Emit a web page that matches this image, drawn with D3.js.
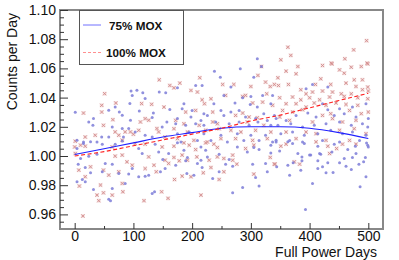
<!DOCTYPE html>
<html><head><meta charset="utf-8">
<script src="https://cdn.jsdelivr.net/npm/d3@7"></script>
<style>
html,body{margin:0;padding:0;background:#fff;}
svg{display:block;font-family:"Liberation Sans",Arial,Helvetica,sans-serif;}
</style></head>
<body>
<svg id="c" width="399" height="260"></svg>
<script>
// ---- data ----
const mox75Points = [
[1,1.030],[96,1.0445],[106,1.045],[98,1.0415],[116,1.0434],[120,1.0393],[144,1.0438],[155,1.0434],[162,1.0318],[134,1.0294],[132,1.0263],[110,1.0308],[94,1.0359],[95,1.0245],[69,1.0335],[58,1.0313],[76,1.0301],[81,1.0279],[32,1.0256],[24,1.0233],[31,1.021],[64,1.0199],[81,1.0188],[83,1.013],[58,1.013],[46,1.013],[38,1.0096],[15,1.0096],[4,1.0108],[132,1.013],[149,1.0199],[157,1.0233],[120,1.0142],[103,1.0165],[92,1.0188],
[282,1.0597],[238,1.0581],[248,1.054],[305,1.054],[206,1.0483],[217,1.0483],[175,1.0467],[266,1.0472],[254,1.0415],[286,1.0399],[300,1.0408],[320,1.0415],[337,1.0415],[273,1.0363],[299,1.0353],[334,1.0358],[237,1.0358],[186,1.0358],[183,1.0324],[200,1.0312],[220,1.029],[249,1.0312],[266,1.0301],[280,1.0312],[311,1.0335],[322,1.029],[175,1.0256],[198,1.0267],[215,1.0244],[226,1.0278],[254,1.0278],[291,1.0267],[308,1.0256],[328,1.0244],[340,1.0278],[172,1.0221],[189,1.021],[206,1.0221],[220,1.021],[240,1.0233],[263,1.0221],[280,1.0233],[297,1.021],[312,1.0233],[334,1.021],[175,1.0153],[195,1.0164],[220,1.0153],[249,1.0142],[277,1.0153],[300,1.0142],[325,1.0142],[181,1.0096],[209,1.0107],[232,1.0107],[260,1.0096],[288,1.0107],[314,1.0107],[337,1.0096],
[343,1.0256],[360,1.0244],[377,1.0278],[405,1.049],[431,1.0472],[394,1.046],[422,1.0358],[431,1.0317],[451,1.0324],[473,1.0335],[496,1.0358],[397,1.0294],[411,1.0267],[442,1.0278],[459,1.029],[479,1.0267],[500,1.0256],[346,1.021],[368,1.0221],[388,1.0199],[408,1.021],[428,1.0221],[451,1.0233],[471,1.021],[490,1.0221],[499,1.0199],[351,1.0153],[371,1.0164],[391,1.0142],[414,1.0153],[436,1.0176],[456,1.0153],[473,1.0164],[496,1.0142],[343,1.0096],[366,1.0107],[388,1.0096],[422,1.0107],[451,1.0096],[485,1.0107],[497,1.0089],
[311,1.0666],[318,1.0613],
[15,1.0085],[4,1.0051],[27,1.0097],[47,1.0081],[81,1.0103],[10,0.9983],[24,0.9999],[38,1.0012],[6,0.9944],[18,0.9921],[27,0.9885],[13,0.9839],[4,0.9823],[18,0.9823],[47,0.9892],[52,0.9949],[64,0.9944],[75,0.988],[92,0.9876],[98,0.9914],[109,0.9858],[120,0.9862],[126,0.9869],[146,0.9892],[154,0.9914],[160,1.0017],[143,1.0028],[137,1.0081],[32,0.9771],[64,0.9778],[86,0.9812],[132,0.9744],[136,0.9755],[61,0.9694],[58,0.9703],[69,1.0081],[109,1.0051],[115,1.0017],[150,0.9976],
[175,1.009],[186,1.004],[192,0.999],[189,0.9967],[172,0.9937],[191,0.988],[203,0.9869],[209,0.9949],[215,0.9971],[217,0.9921],[223,1.004],[215,1.0062],[246,1.0012],[257,0.9944],[269,0.993],[263,0.9976],[277,1.0062],[294,1.0028],[305,1.0058],[314,1.0044],[334,1.0074],[334,1.0021],[325,0.9949],[303,0.9944],[328,0.9892],[308,0.9853],[314,0.9794],[286,0.9785],[269,0.9748],[235,0.9846],[246,0.9892],[226,0.9994],
[343,1.0108],[363,1.0097],[371,1.0085],[391,1.0085],[414,1.0067],[442,1.0081],[465,1.0044],[478,1.0067],[499,1.0074],[349,1.0035],[380,1.0017],[387,0.9994],[400,1.0006],[419,1.0012],[438,1.0028],[459,0.9983],[473,0.999],[479,1.0017],[495,0.999],[500,1.0062],[363,0.9937],[372,0.9953],[387,0.9967],[414,0.9967],[431,0.9953],[451,0.9953],[462,0.993],[484,0.9944],[492,0.996],[344,0.9926],[385,0.9903],[414,0.9914],[422,0.9926],[428,0.9885],[440,0.9887],[471,0.9908],[496,0.9858],[366,0.9869],[405,0.9812],[486,0.9789],[393,0.9634],[417,1.0017],[402,1.0006]
];
const mox100Points = [
[51,1.0427],[144,1.0522],[162,1.0483],[70,1.0363],[46,1.0347],[15,1.0294],[46,1.0301],[65,1.0249],[49,1.021],[114,1.0359],[131,1.0354],[152,1.0335],[120,1.0256],[112,1.0233],[126,1.0245],[86,1.0165],[95,1.0165],[100,1.0149],[109,1.0176],[69,1.0165],[75,1.0142],[35,1.0142],[1,1.0101],[18,1.013],[140,1.0188],[154,1.013],[143,1.0165],[81,1.0108],
[213,1.0536],[179,1.0499],[252,1.049],[271,1.049],[312,1.0552],[318,1.0613],[300,1.0476],[325,1.0506],[333,1.0476],[169,1.0467],[198,1.0449],[209,1.0438],[217,1.0385],[232,1.0392],[221,1.0358],[257,1.0415],[286,1.0408],[291,1.0415],[327,1.0426],[337,1.0347],[320,1.0369],[303,1.0363],[286,1.0294],[189,1.0301],[206,1.0312],[235,1.0301],[274,1.0278],[297,1.0267],[311,1.0262],[172,1.0244],[186,1.0221],[212,1.021],[235,1.0233],[243,1.0221],[294,1.0233],[322,1.021],[169,1.0187],[192,1.0164],[223,1.0176],[246,1.0187],[266,1.0176],[283,1.0164],[308,1.0176],[334,1.0164],[175,1.0119],[203,1.0107],[226,1.0096],[249,1.0119],[274,1.0119],[303,1.0107],[328,1.0119],
[380,1.0613],[422,1.062],[438,1.0631],[499,1.0631],[471,1.0608],[488,1.0613],[360,1.0581],[346,1.0536],[377,1.0563],[451,1.059],[459,1.0567],[476,1.0522],[490,1.0522],[419,1.0529],[340,1.049],[347,1.0483],[364,1.049],[410,1.049],[436,1.049],[462,1.0499],[479,1.0476],[499,1.0472],[385,1.0454],[394,1.0426],[405,1.0438],[422,1.0445],[439,1.0438],[454,1.0426],[471,1.0426],[490,1.0454],[500,1.0445],[349,1.0399],[371,1.0404],[385,1.0385],[400,1.0399],[417,1.0385],[434,1.0404],[459,1.0408],[482,1.0399],[499,1.0392],[360,1.0358],[377,1.0358],[394,1.0335],[408,1.0363],[428,1.0347],[445,1.0363],[462,1.0353],[482,1.0347],[354,1.0312],[371,1.0301],[388,1.0317],[422,1.0278],[436,1.029],[468,1.0312],[488,1.029],[500,1.0301],[349,1.0267],[366,1.0244],[405,1.0233],[439,1.0256],[456,1.0233],[479,1.0244],[360,1.0164],[394,1.0164],[411,1.0153],[451,1.0176],[476,1.0187],[496,1.0153],[377,1.0119],[428,1.0107],[468,1.0107],
[497,1.079],[475,1.0727],[363,1.0745],[368,1.0689],[460,1.0666],[351,1.0659],[437,1.0636],[498,1.0636],
[1,1.0017],[0,1.0062],[10,1.0074],[18,1.0067],[7,0.9903],[27,0.9926],[49,0.9903],[58,0.9869],[69,0.9999],[81,1.0006],[89,0.996],[98,0.9937],[126,0.9994],[135,0.9937],[154,0.9971],[160,0.9949],[75,0.9892],[81,0.9812],[44,0.9801],[18,0.9858],[8,0.9794],[49,0.9748],[38,0.9732],[41,0.9694],[64,0.9732],[82,0.9755],[118,0.9694],[139,0.9892],[148,0.9755],[159,0.971],[14,0.9589],[103,1.0085],[120,1.0081],[149,1.0062],[64,1.0062],[120,0.9914],
[169,1.0067],[186,1.009],[195,1.0074],[206,1.0044],[223,1.009],[237,1.0081],[243,1.0058],[183,1.0006],[169,0.999],[178,0.9967],[192,0.9971],[208,0.9994],[229,0.9971],[243,0.9994],[254,0.9983],[269,1.0006],[269,0.9971],[276,0.9944],[254,0.9892],[232,0.9921],[219,0.9885],[198,0.9858],[183,0.9862],[170,0.9839],[246,0.9839],[215,0.9732],[291,1.0051],[305,1.0074],[333,0.999],[341,0.9944],[305,0.9876],
[351,1.0067],[360,1.0081],[411,1.0097],[431,1.0067],[446,1.0051],[456,1.0081],[340,0.9944],[374,0.996],[383,0.9944],[434,1.0017],[479,1.0081]
];
const fitDays  = [0,50,100,150,200,250,300,350,400,450,500];
const fit75    = [1.001,1.005,1.009,1.013,1.016,1.019,1.020,1.020,1.019,1.016,1.012];
const fit100   = [1.000,1.003,1.007,1.011,1.015,1.019,1.024,1.028,1.033,1.038,1.043];
const xTicks = [0,100,200,300,400,500];
const xMinorTicks = [50,150,250,350,450];
const yTicks = [0.96,0.98,1.00,1.02,1.04,1.06,1.08,1.10];
const seriesNames = ["75% MOX","100% MOX"];

// ---- chart ----
const svg = d3.select("#c");
const L=60,R=383,T=10,B=229;
const x = d3.scaleLinear().domain([-25,525]).range([L,R]);
const y = d3.scaleLinear().domain([0.95,1.10]).range([B,T]);

svg.append("defs").append("clipPath").attr("id","clip")
  .append("rect").attr("x",L).attr("y",T).attr("width",R-L).attr("height",B-T);

const plot = svg.append("g").attr("clip-path","url(#clip)");

// red x markers
const rg = plot.append("g");
mox100Points.forEach(d=>{
  const cx=x(d[0]), cy=y(d[1]);
  rg.append("rect").attr("x",cx-2).attr("y",cy-2).attr("width",4).attr("height",4)
    .attr("fill","rgba(225,170,170,0.35)");
  rg.append("path").attr("d",`M${cx-1.6},${cy-1.6}L${cx+1.6},${cy+1.6}M${cx-1.6},${cy+1.6}L${cx+1.6},${cy-1.6}`)
    .attr("stroke","#d38c8c").attr("stroke-width",0.9).attr("fill","none");
});
// blue dots
plot.append("g").selectAll("circle").data(mox75Points).join("circle")
  .attr("cx",d=>x(d[0])).attr("cy",d=>y(d[1])).attr("r",1.5)
  .attr("fill","#7d7dd8").attr("fill-opacity",0.85);

// fit curves
const line = d3.line().x((d,i)=>x(fitDays[i])).y(d=>y(d)).curve(d3.curveMonotoneX);
plot.append("path").attr("d",line(fit75)).attr("fill","none").attr("stroke","#2020ff").attr("stroke-width",1.1);
plot.append("path").attr("d",line(fit100)).attr("fill","none").attr("stroke","#ff2020").attr("stroke-width",1.1).attr("stroke-dasharray","4,2.5");

// frame
svg.append("rect").attr("x",L).attr("y",T).attr("width",R-L).attr("height",B-T)
  .attr("fill","none").attr("stroke","#888").attr("stroke-width",2);

// axes
const yMinor = d3.range(0.955,1.1001,0.005).filter(v=>!yTicks.some(t=>Math.abs(t-v)<1e-6));
const ax = svg.append("g").attr("transform",`translate(${L},0)`)
  .call(d3.axisLeft(y).tickValues(yTicks).tickFormat(d3.format(".2f")).tickSize(-8).tickPadding(4));
const axm = svg.append("g").attr("transform",`translate(${L},0)`)
  .call(d3.axisLeft(y).tickValues(yMinor).tickFormat("").tickSize(-4));
const bx = svg.append("g").attr("transform",`translate(0,${B})`)
  .call(d3.axisBottom(x).tickValues(xTicks).tickFormat(d3.format("d")).tickSize(-6).tickPadding(2));
const bxm = svg.append("g").attr("transform",`translate(0,${B})`)
  .call(d3.axisBottom(x).tickValues(xMinorTicks).tickFormat("").tickSize(-3));
[ax,axm,bx,bxm].forEach(g=>{
  g.select(".domain").remove();
  g.selectAll(".tick line").attr("stroke","#333").attr("stroke-width",1);
  g.selectAll("text").attr("font-size",14).attr("fill","#111")
    .attr("font-family","'Liberation Sans',Arial,Helvetica,sans-serif");
});

// axis titles
svg.append("text").attr("x",377).attr("y",257).attr("text-anchor","end")
  .attr("font-size",14).attr("fill","#111").text("Full Power Days");
svg.append("text").attr("transform","translate(17,13) rotate(-90)").attr("text-anchor","end")
  .attr("font-size",14).attr("fill","#111").text("Counts per Day");

// legend
const lg = svg.append("g");
lg.append("rect").attr("x",79.5).attr("y",10.5).attr("width",104).attr("height",54)
  .attr("fill","#fff").attr("stroke","#555").attr("stroke-width",1);
lg.append("line").attr("x1",83).attr("x2",101).attr("y1",25).attr("y2",25)
  .attr("stroke","#7070ff").attr("stroke-width",1);
lg.append("line").attr("x1",83).attr("x2",101).attr("y1",52.5).attr("y2",52.5)
  .attr("stroke","#ff8f8f").attr("stroke-width",1).attr("stroke-dasharray","3,2");
lg.append("text").attr("x",109).attr("y",29.5).attr("font-size",11.7).attr("font-weight","bold").attr("fill","#111").text(seriesNames[0]);
lg.append("text").attr("x",106).attr("y",57).attr("font-size",11.7).attr("font-weight","bold").attr("fill","#111").text(seriesNames[1]);
</script>
</body></html>
